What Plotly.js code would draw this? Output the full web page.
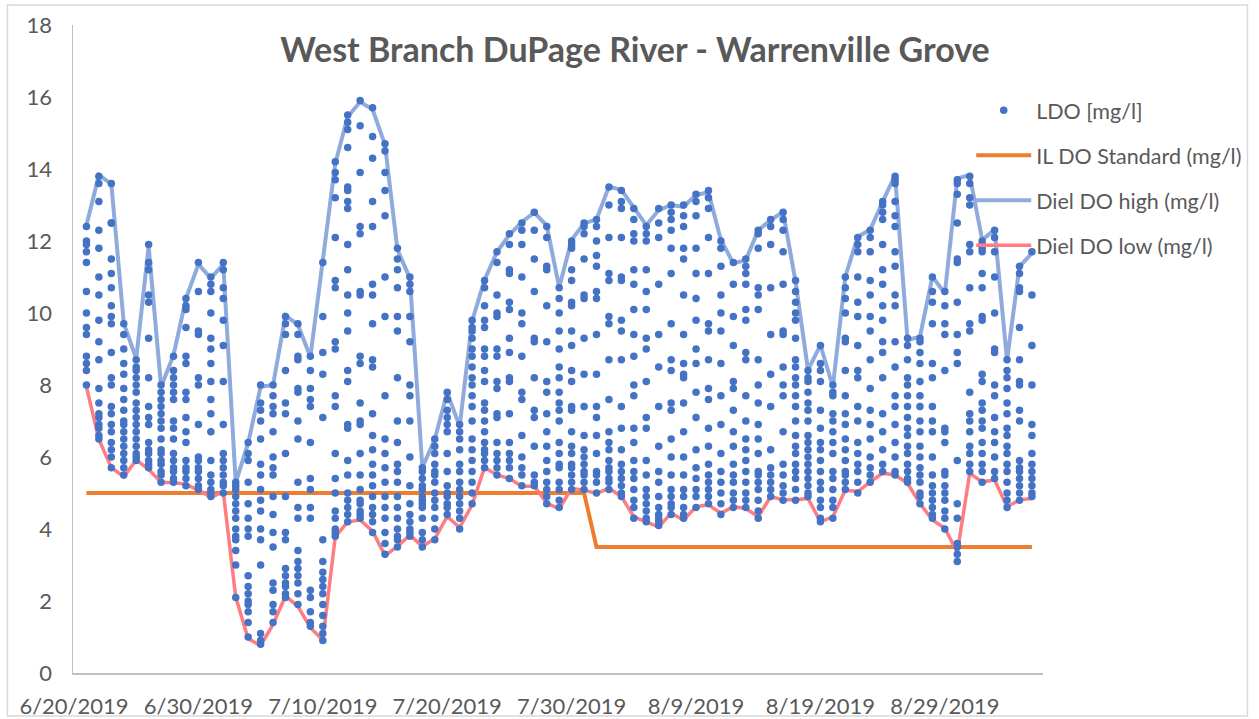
<!DOCTYPE html>
<html>
<head>
<meta charset="utf-8">
<script src="https://cdn.plot.ly/plotly-3.0.1.min.js"></script>
<style>
  html, body { margin: 0; padding: 0; background: #ffffff; }
  #chart { width: 1259px; height: 719px; }
</style>
</head>
<body>
<div id="chart"></div>
<script>
// ---- Data ----
const chartTitle = 'West Branch DuPage River - Warrenville Grove';
const firstDay = '2019-06-21';           // first sampled day; one entry per day below
const tickDates = ['2019-06-20', '2019-06-30', '2019-07-10', '2019-07-20', '2019-07-30', '2019-08-09', '2019-08-19', '2019-08-29'];
const tickLabels = ['6/20/2019', '6/30/2019', '7/10/2019', '7/20/2019', '7/30/2019', '8/9/2019', '8/19/2019', '8/29/2019'];
const seriesNames = ['LDO [mg/l]', 'IL DO Standard (mg/l)', 'Diel DO high (mg/l)', 'Diel DO low (mg/l)'];

const dielHigh = [12.43, 13.83, 13.59, 9.72, 8.73, 11.85, 7.95, 8.83, 10.4, 11.35,
  10.97, 11.35, 5.29, 6.39, 7.95, 8.0, 9.93, 9.67, 8.78, 11.39,
  14.15, 15.45, 15.86, 15.66, 14.67, 11.75, 10.97, 5.71, 6.49, 7.79,
  6.85, 9.77, 10.92, 11.7, 12.17, 12.53, 12.79, 12.43, 10.71, 12.03,
  12.49, 12.6, 13.51, 13.42, 12.91, 12.44, 12.86, 13.0, 12.95, 13.28,
  13.35, 12.03, 11.38, 11.47, 12.3, 12.58, 12.81, 10.87, 8.42, 9.11,
  7.95, 11.01, 12.12, 12.31, 13.09, 13.83, 9.25, 9.34, 11.01, 10.55,
  13.74, 13.83, 12.03, 12.31, 8.69, 11.29, 11.66];

const dielLow = [7.95, 6.49, 5.71, 5.45, 5.92, 5.66, 5.29, 5.29, 5.24, 5.08,
  4.88, 5.03, 2.11, 0.95, 0.76, 1.35, 2.14, 1.85, 1.26, 0.92,
  3.78, 4.2, 4.25, 3.94, 3.26, 3.52, 3.83, 3.52, 3.73, 4.35,
  4.04, 4.67, 5.71, 5.5, 5.4, 5.19, 5.19, 4.72, 4.56, 5.13,
  5.08, 4.99, 5.13, 4.9, 4.34, 4.2, 4.06, 4.44, 4.25, 4.62,
  4.67, 4.44, 4.62, 4.57, 4.34, 4.9, 4.81, 4.81, 4.85, 4.2,
  4.34, 5.08, 5.04, 5.31, 5.55, 5.5, 5.27, 4.71, 4.25, 4.02,
  3.35, 5.55, 5.31, 5.36, 4.62, 4.81, 4.85];

const ilStandard = [5, 5, 5, 5, 5, 5, 5, 5, 5, 5,
  5, 5, 5, 5, 5, 5, 5, 5, 5, 5,
  5, 5, 5, 5, 5, 5, 5, 5, 5, 5,
  5, 5, 5, 5, 5, 5, 5, 5, 5, 5,
  5, 3.5, 3.5, 3.5, 3.5, 3.5, 3.5, 3.5, 3.5, 3.5,
  3.5, 3.5, 3.5, 3.5, 3.5, 3.5, 3.5, 3.5, 3.5, 3.5,
  3.5, 3.5, 3.5, 3.5, 3.5, 3.5, 3.5, 3.5, 3.5, 3.5,
  3.5, 3.5, 3.5, 3.5, 3.5, 3.5, 3.5];

// LDO readings, one small list per day (6/21 ... 9/5)
const ldoByDay = [
  [12.4,12.0,11.9,11.7,11.4,10.6,10.0,9.6,9.4,8.8,8.6,8.4,8.0],
  [13.8,13.6,13.1,12.3,11.8,11.0,10.5,9.8,9.2,8.7,7.9,7.5,7.2,7.1,6.9,6.8,6.6,6.5],
  [13.6,12.5,12.5,11.5,11.1,10.7,10.2,9.9,9.7,8.9,8.2,8.0,7.4,7.2,6.9,6.7,6.4,6.2,6.0,5.7],
  [9.7,9.4,9.0,8.6,8.3,7.9,7.6,7.3,7.0,6.9,6.7,6.5,6.3,6.1,5.9,5.7,5.5],
  [8.7,8.5,8.4,8.2,8.0,7.8,7.5,7.3,7.1,6.9,6.7,6.5,6.3,6.1,6.0,5.9],
  [11.9,11.4,11.2,10.5,10.3,9.3,8.2,7.4,7.1,6.9,6.4,6.2,6.1,5.9,5.8,5.7],
  [8.0,7.8,7.6,7.4,7.2,7.0,6.8,6.5,6.2,6.1,5.9,5.8,5.6,5.5,5.3],
  [8.8,8.4,8.2,8.0,7.8,7.6,7.0,6.8,6.5,6.1,5.9,5.7,5.6,5.4,5.3],
  [10.4,10.2,10.1,9.6,8.8,8.6,7.8,7.6,7.1,6.7,6.4,5.9,5.7,5.6,5.4,5.2],
  [11.4,10.6,9.5,9.4,8.2,8.0,6.9,6.0,5.9,5.7,5.6,5.4,5.2,5.1],
  [11.0,10.8,10.6,10.0,9.3,9.0,8.6,8.1,7.6,7.2,6.7,5.9,5.5,5.3,5.1,5.0,4.9],
  [11.4,11.2,10.7,10.4,9.8,9.1,8.1,6.9,6.1,5.9,5.7,5.5,5.3,5.2,5.0],
  [5.3,5.2,5.1,4.9,4.7,4.5,4.3,4.0,3.8,3.7,3.4,3.0,2.1],
  [6.4,6.1,5.9,5.3,4.7,4.3,4.0,3.8,2.7,2.4,2.2,2.0,1.9,1.7,1.4,1.0],
  [8.0,7.5,7.3,7.0,6.5,5.8,5.5,5.1,4.8,4.5,4.0,3.7,3.0,1.1,0.9,0.8],
  [8.0,7.7,7.4,7.2,6.7,6.0,5.7,5.5,4.9,4.4,3.9,3.5,2.5,2.3,1.9,1.7,1.4],
  [9.9,9.7,9.4,8.4,7.5,7.2,6.1,4.9,3.9,3.7,2.9,2.7,2.5,2.4,2.2,2.1],
  [9.7,9.4,8.8,8.7,7.9,7.8,7.0,6.5,5.3,4.6,4.3,3.4,3.1,2.9,2.7,2.5,2.2,1.9],
  [8.8,8.4,7.9,7.6,7.4,6.4,5.4,5.1,4.6,4.3,2.3,2.1,1.7,1.4,1.3],
  [11.4,9.9,8.9,8.3,7.1,3.7,3.1,2.8,2.6,2.4,2.2,1.9,1.6,1.3,1.1,0.9],
  [14.2,13.9,13.7,13.2,12.1,10.9,10.7,9.2,9.0,7.7,7.4,6.1,5.4,5.0,4.5,4.3,4.0,3.9,3.8],
  [15.5,15.3,15.1,14.6,13.5,13.4,13.1,12.9,11.9,11.2,10.5,10.0,9.5,8.4,8.1,6.9,6.8,5.9,5.5,5.0,4.8,4.6,4.4,4.2],
  [15.9,15.2,13.9,12.4,12.2,10.6,10.5,8.8,8.6,7.5,7.0,6.9,6.1,5.5,5.1,4.8,4.7,4.5,4.4,4.3],
  [15.7,14.9,14.3,13.1,12.4,10.8,10.5,9.7,8.7,8.5,7.2,6.6,6.2,5.8,5.5,5.2,4.9,4.6,4.4,4.2,3.9],
  [14.7,14.5,13.9,13.4,12.7,11.0,9.9,7.7,6.5,6.1,5.7,5.3,4.9,4.6,4.3,3.9,3.6,3.3],
  [11.8,11.5,11.2,10.7,9.9,9.5,8.2,7.0,6.4,5.8,5.6,5.3,4.9,4.6,4.3,4.0,3.8,3.7,3.5],
  [11.0,10.8,10.6,9.9,9.2,8.0,7.7,7.0,6.0,5.2,4.7,4.4,4.2,4.0,3.9,3.8],
  [5.7,5.6,5.4,5.2,5.1,4.9,4.8,4.7,4.6,4.3,3.9,3.7,3.5],
  [6.5,6.3,6.1,5.8,5.6,5.5,5.3,5.0,4.8,4.6,4.3,4.0,3.7],
  [7.8,7.6,7.3,7.1,6.9,6.7,6.1,5.6,5.2,5.0,4.9,4.7,4.6,4.4],
  [6.9,6.7,6.5,6.2,5.8,5.6,5.3,5.1,4.9,4.7,4.5,4.3,4.0],
  [9.8,9.6,9.5,9.3,9.0,8.8,8.5,8.2,8.0,7.7,7.4,7.0,6.5,6.2,5.9,5.6,5.3,5.0,4.7],
  [10.9,10.7,10.2,9.8,9.6,9.0,8.8,8.4,8.1,7.5,7.3,7.0,6.7,6.4,6.2,6.1,5.9,5.7],
  [11.7,11.4,10.5,10.0,9.9,9.0,8.8,8.1,7.9,7.2,7.1,6.4,6.1,5.9,5.7,5.5],
  [12.2,11.9,11.2,11.1,10.3,10.1,9.3,8.9,8.2,8.1,7.2,6.4,6.1,5.9,5.7,5.4],
  [12.5,12.3,11.9,11.0,10.0,9.7,8.8,7.8,7.6,6.6,6.0,5.7,5.5,5.2],
  [12.8,12.3,11.5,10.6,9.3,9.2,8.2,7.3,7.1,6.3,5.5,5.3,5.2],
  [12.4,12.1,11.3,11.2,10.2,9.2,8.1,7.8,7.2,6.7,6.3,5.9,5.6,5.3,5.1,4.9,4.7],
  [10.7,10.4,10.0,9.5,9.0,8.5,8.2,7.8,7.5,7.3,7.0,6.4,6.1,5.8,5.7,5.3,5.1,4.8,4.6],
  [12.0,11.9,11.8,11.2,10.9,10.3,10.2,9.5,9.1,8.4,8.1,7.4,7.3,6.7,6.3,6.1,5.8,5.7,5.5,5.3,5.1],
  [12.5,12.4,12.2,11.5,10.5,10.4,9.3,8.3,7.4,6.6,6.2,6.0,5.8,5.6,5.5,5.3,5.1],
  [12.6,12.4,12.0,11.6,11.3,10.6,10.4,9.4,8.3,7.4,7.1,6.6,6.1,5.6,5.5,5.3,5.0],
  [13.5,13.0,12.1,11.1,10.9,9.9,9.7,8.7,7.6,6.7,6.4,6.2,5.9,5.7,5.6,5.4,5.3,5.1],
  [13.4,13.1,12.9,12.1,11.0,10.9,9.8,9.5,8.7,7.4,6.8,6.2,5.8,5.6,5.4,5.2,5.0,4.9],
  [12.9,12.6,12.2,12.0,11.2,10.8,10.1,9.4,8.8,8.0,7.7,6.8,6.4,5.9,5.6,5.4,5.1,4.8,4.6,4.3],
  [12.4,12.2,12.0,11.2,10.6,10.1,9.3,9.0,8.1,7.1,6.8,5.9,5.5,5.1,4.9,4.7,4.5,4.3,4.2],
  [12.9,12.5,12.1,10.8,9.4,8.5,7.4,6.3,5.6,5.3,4.9,4.6,4.4,4.3,4.2,4.1],
  [13.0,12.8,12.6,12.3,11.8,11.1,9.7,8.7,8.4,7.5,7.3,6.5,6.0,5.5,5.1,4.9,4.7,4.6,4.4],
  [13.0,12.7,12.4,11.8,11.5,10.5,9.4,8.6,8.3,8.2,7.5,6.7,6.0,5.5,5.1,4.9,4.6,4.4,4.3],
  [13.3,13.1,12.7,11.8,11.1,10.4,9.8,9.0,8.6,7.8,7.1,6.2,5.7,5.4,5.1,4.9,4.6],
  [13.4,13.2,12.9,12.1,11.1,9.7,9.5,8.7,7.9,7.6,6.8,6.3,5.8,5.5,5.3,5.1,4.9,4.7],
  [12.0,11.8,11.3,10.5,10.0,9.5,8.6,7.7,6.9,6.1,5.6,5.3,5.0,4.7,4.4],
  [11.4,10.8,9.9,9.1,8.1,7.9,7.3,6.7,6.3,5.8,5.5,5.3,5.0,4.8,4.6],
  [11.5,11.3,11.1,10.8,10.1,9.8,8.9,8.7,7.7,7.0,6.5,6.2,5.9,5.6,5.3,5.0,4.8,4.6],
  [12.3,12.2,11.8,10.7,10.5,10.1,8.7,8.0,7.5,6.9,6.5,6.1,5.6,5.5,5.3,5.1,4.8,4.5,4.3],
  [12.6,12.4,11.9,10.7,9.4,8.3,7.4,6.2,5.7,5.5,5.3,5.1,4.9],
  [12.8,12.6,12.3,11.7,10.8,9.5,9.4,8.5,8.0,7.7,6.7,5.8,5.5,5.2,5.0,4.8],
  [10.9,10.6,10.3,10.0,9.8,9.3,8.7,8.5,8.2,8.0,7.7,7.4,7.0,6.6,6.3,6.1,5.8,5.6,5.4,5.1,4.8],
  [8.4,8.2,8.1,7.8,7.5,7.3,7.0,6.6,6.4,6.2,6.0,5.8,5.6,5.4,5.2,5.0,4.9],
  [9.1,8.6,8.4,8.1,7.3,6.8,6.4,6.2,5.9,5.6,5.3,5.1,4.8,4.6,4.3,4.2],
  [8.0,7.8,7.7,7.2,7.0,6.7,6.4,6.1,5.6,5.4,5.1,4.8,4.6,4.3],
  [11.0,10.7,10.4,10.0,9.3,9.2,8.4,7.7,7.2,6.9,6.5,6.2,5.9,5.6,5.5,5.3,5.1],
  [12.1,11.9,11.7,11.0,10.3,9.9,9.1,8.4,8.2,7.4,7.0,6.4,6.1,5.8,5.6,5.3,5.0],
  [12.3,12.1,11.7,10.9,10.5,9.9,9.5,8.7,7.9,7.3,6.9,6.5,6.0,5.7,5.5,5.3],
  [13.1,13.0,12.8,12.6,11.9,11.2,10.8,10.2,9.8,9.2,8.9,8.2,7.2,6.7,6.2,5.8,5.6],
  [13.8,13.7,13.6,13.1,12.7,12.4,11.7,11.3,10.5,10.2,9.2,8.5,7.7,7.4,6.9,6.4,6.0,5.6,5.5],
  [9.3,9.1,8.7,8.2,8.0,7.7,7.4,7.1,6.8,6.6,6.3,6.1,5.8,5.6,5.4,5.3],
  [9.3,9.2,8.9,8.6,8.1,7.7,7.4,7.0,6.7,6.3,6.0,5.7,5.5,5.3,5.0,4.9,4.7],
  [11.0,10.6,10.3,9.7,8.6,8.2,7.4,7.0,6.7,6.0,5.5,5.2,5.0,4.8,4.6,4.4,4.3],
  [10.6,10.2,9.7,9.4,8.4,6.8,6.7,6.4,5.6,5.5,5.2,5.0,4.8,4.5,4.3,4.0],
  [13.7,13.6,13.3,12.5,11.5,11.4,10.3,9.4,8.9,8.6,5.9,4.7,4.3,3.6,3.5,3.3,3.1],
  [13.8,13.6,13.2,13.0,11.9,11.7,10.7,9.7,9.5,7.8,7.2,7.0,6.7,6.3,6.1,5.8,5.6],
  [12.0,11.9,11.8,11.7,11.1,10.7,9.9,9.8,8.3,8.1,7.5,7.3,7.0,6.8,6.4,6.1,5.8,5.6,5.3],
  [12.3,12.1,11.7,11.0,10.0,9.0,8.9,8.0,7.7,7.1,6.7,6.4,6.0,5.6,5.4],
  [8.7,8.4,8.2,7.9,7.5,7.2,6.8,6.6,6.3,6.1,5.8,5.6,5.3,5.0,4.8,4.6],
  [11.3,11.1,10.7,10.6,9.6,8.7,8.1,8.0,7.3,7.0,5.9,5.7,5.6,5.4,5.2,5.0,4.8],
  [11.7,10.5,9.1,8.0,6.9,6.6,6.1,5.8,5.6,5.4,5.2,5.0,4.9]
];

// ---- Build traces ----
const dayMs = 86400000;
const startMs = Date.parse(firstDay + 'T00:00:00Z');
const dates = dielHigh.map((_, i) => new Date(startMs + i * dayMs).toISOString().slice(0, 10));

const ldoX = [], ldoY = [];
ldoByDay.forEach((vals, i) => vals.forEach(v => { ldoX.push(dates[i]); ldoY.push(v); }));

const traces = [
  { x: dates, y: ilStandard, name: seriesNames[1], type: 'scatter', mode: 'lines',
    line: { color: '#ED7D31', width: 4 }, legendrank: 2, legendgroup: 'b' },
  { x: dates, y: dielHigh, name: seriesNames[2], type: 'scatter', mode: 'lines',
    line: { color: '#8FAADC', width: 4 }, legendrank: 3, legendgroup: 'c' },
  { x: dates, y: dielLow, name: seriesNames[3], type: 'scatter', mode: 'lines',
    line: { color: '#FF7C80', width: 3.5 }, legendrank: 4, legendgroup: 'd' },
  { x: ldoX, y: ldoY, name: seriesNames[0], type: 'scatter', mode: 'markers',
    marker: { color: '#4472C4', size: 7.5 }, legendrank: 1, legendgroup: 'a' }
];

const fontFam = 'Lato, Carlito, Calibri, sans-serif';
const layout = {
  width: 1259, height: 719,
  margin: { l: 73, r: 209, t: 25, b: 46, pad: 0 },
  paper_bgcolor: '#ffffff', plot_bgcolor: '#ffffff',
  showlegend: true,
  title: { text: chartTitle, xref: 'container', yref: 'container', x: 0.5044, y: 0.93,
    xanchor: 'center', yanchor: 'middle',
    font: { family: fontFam, size: 34, color: '#595959', weight: 700 } },
  xaxis: {
    type: 'date', range: ['2019-06-19 22:05', '2019-09-05 21:22'],
    tickmode: 'array', tickvals: tickDates, ticktext: tickLabels,
    showgrid: false, zeroline: false, showline: true, linecolor: '#BFBFBF', linewidth: 1.5,
    ticks: '', ticklabelstandoff: 13,
    tickfont: { family: fontFam, size: 22, color: '#595959' }
  },
  yaxis: {
    range: [0, 18], dtick: 2, tick0: 0,
    showgrid: false, zeroline: false, showline: true, linecolor: '#BFBFBF', linewidth: 1.5,
    ticks: '', ticklabelstandoff: 15,
    tickfont: { family: fontFam, size: 22, color: '#595959' }
  },
  legend: {
    x: 0.926, xanchor: 'left', y: 0.9, yanchor: 'top',
    bgcolor: 'rgba(0,0,0,0)', borderwidth: 0,
    traceorder: 'grouped', tracegroupgap: 14, itemwidth: 55,
    font: { family: fontFam, size: 21.5, color: '#595959' }
  },
  shapes: [
    { type: 'rect', xref: 'paper', yref: 'paper', layer: 'below',
      x0: -0.0676, x1: 1.2108, y0: -0.0664, y1: 1.0309,
      line: { color: '#D9D9D9', width: 1.5 } }
  ]
};

Plotly.newPlot('chart', traces, layout, { displayModeBar: false, staticPlot: true });
</script>
</body>
</html>
